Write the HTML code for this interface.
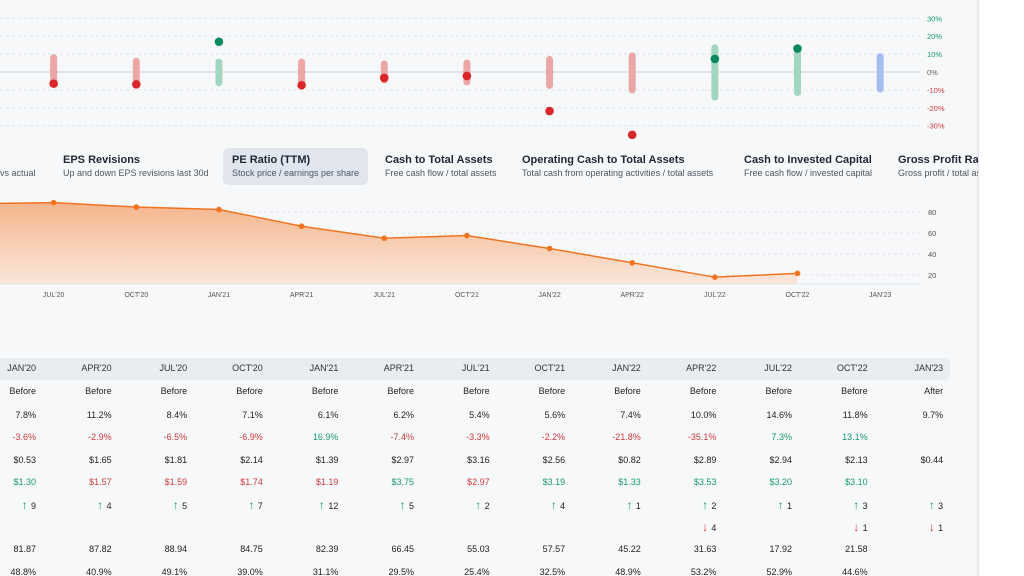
<!DOCTYPE html>
<html><head><meta charset="utf-8">
<style>
html,body{margin:0;padding:0;width:1024px;height:576px;overflow:hidden;background:#f6f8fa;font-family:"Liberation Sans",sans-serif}
#root{position:relative;width:1024px;height:576px}
.panel{position:absolute;left:978px;top:0;width:46px;height:576px;background:#fff;border-left:1px solid #e3e6ea;box-shadow:-1px 0 3px rgba(0,0,0,.05)}
.tab{position:absolute;top:148px;height:37px;padding:0 9px;box-sizing:border-box;border-radius:6px}
.tab .t{position:absolute;top:6px;font-size:11px;font-weight:bold;color:#1f2733;white-space:nowrap}
.tab .s{position:absolute;top:20px;font-size:9px;color:#4e5661;white-space:nowrap}
.sel{background:#e1e6ee}
</style></head><body>
<div id="root">
<svg id="chart" width="1024" height="576" style="position:absolute;left:0;top:0"></svg>
<div class="tab" style="left:54px;width:160px"><div class="t" style="left:9px">EPS Revisions</div><div class="s" style="left:9px">Up and down EPS revisions last 30d</div></div>
<div class="tab" style="left:-60px;width:100px"><div class="s" style="left:60px">vs actual</div></div>
<div class="tab sel" style="left:223px;width:145px"><div class="t" style="left:9px">PE Ratio (TTM)</div><div class="s" style="left:9px">Stock price / earnings per share</div></div>
<div class="tab" style="left:376px;width:140px"><div class="t" style="left:9px">Cash to Total Assets</div><div class="s" style="left:9px">Free cash flow / total assets</div></div>
<div class="tab" style="left:513px;width:215px"><div class="t" style="left:9px">Operating Cash to Total Assets</div><div class="s" style="left:9px">Total cash from operating activities / total assets</div></div>
<div class="tab" style="left:735px;width:150px"><div class="t" style="left:9px">Cash to Invested Capital</div><div class="s" style="left:9px">Free cash flow / invested capital</div></div>
<div class="tab" style="left:889px;width:89px;overflow:hidden;padding:0"><div class="t" style="left:9px">Gross Profit Ratio</div><div class="s" style="left:9px">Gross profit / total assets</div></div>
<div class="panel"></div>
</div>
<script>
const quarters=["JAN'20","APR'20","JUL'20","OCT'20","JAN'21","APR'21","JUL'21","OCT'21","JAN'22","APR'22","JUL'22","OCT'22","JAN'23"];
const rangeHigh=[7,7,8,6,5.5,5.5,4.5,5,7,9,13.5,11,8.5];
const rangeLow=[-6,-6,-6,-7,-6,-7,-4.5,-5.5,-7.5,-10,-14,-11.5,-9.5];
const surprise=[-3.6,-2.9,-6.5,-6.9,16.9,-7.4,-3.3,-2.2,-21.8,-35.1,7.3,13.1,null];
const peRatio=[81.87,87.82,88.94,84.75,82.39,66.45,55.03,57.57,45.22,31.63,17.92,21.58,null];
const pctTicks=[30,20,10,0,-10,-20,-30];
const peTicks=[80,60,40,20];
const timing=["Before","Before","Before","Before","Before","Before","Before","Before","Before","Before","Before","Before","After"];
const estGrowth=["7.8%","11.2%","8.4%","7.1%","6.1%","6.2%","5.4%","5.6%","7.4%","10.0%","14.6%","11.8%","9.7%"];
const surpriseTxt=["-3.6%","-2.9%","-6.5%","-6.9%","16.9%","-7.4%","-3.3%","-2.2%","-21.8%","-35.1%","7.3%","13.1%",""];
const epsEst=["$0.53","$1.65","$1.81","$2.14","$1.39","$2.97","$3.16","$2.56","$0.82","$2.89","$2.94","$2.13","$0.44"];
const epsAct=["$1.30","$1.57","$1.59","$1.74","$1.19","$3.75","$2.97","$3.19","$1.33","$3.53","$3.20","$3.10",""];
const actUp=[1,0,0,0,0,1,0,1,1,1,1,1,null];
const revUp=[9,4,5,7,12,5,2,4,1,2,1,3,3];
const revDown=[null,null,null,null,null,null,null,null,null,4,null,1,1];
const peTxt=["81.87","87.82","88.94","84.75","82.39","66.45","55.03","57.57","45.22","31.63","17.92","21.58",""];
const gross=["48.8%","40.9%","49.1%","39.0%","31.1%","29.5%","25.4%","32.5%","48.9%","53.2%","52.9%","44.6%",""];

const NS="http://www.w3.org/2000/svg";
const svg=document.getElementById('chart');
function mk(tag,attrs,parent){const e=document.createElementNS(NS,tag);for(const k in attrs)e.setAttribute(k,attrs[k]);(parent||svg).appendChild(e);return e;}
const xq=i=>-29+82.65*(i-1);
const yp=v=>72-v*1.79;
const ype=v=>296-v*1.05;

const defs=mk('defs',{});
const lg=mk('linearGradient',{id:'ag',x1:0,y1:0,x2:0,y2:1},defs);
mk('stop',{offset:'0','stop-color':'#f5b58c'},lg);
mk('stop',{offset:'1','stop-color':'#fae6da'},lg);

pctTicks.forEach(t=>{
  const l=mk('line',{x1:0,x2:920,y1:yp(t),y2:yp(t),stroke:t===0?'#dfe3ea':'#e2e5ea','stroke-width':t===0?2:1,'stroke-dasharray':t===0?'':'3,3'});
  
  
  const tx=mk('text',{x:927,y:yp(t)+3,'font-size':7.5,fill:t>0?'#1a9a6a':t<0?'#d0393c':'#666'});
  tx.textContent=t+'%';
  
  
});
quarters.forEach((q,i)=>{
  const x=xq(i);
  const c=i===12?'#a6bdf0':(surprise[i]>0?'#a2d6c1':'#eca6a6');
  const b=mk('line',{x1:x,x2:x,y1:yp(rangeHigh[i]),y2:yp(rangeLow[i]),stroke:c,'stroke-width':7,'stroke-linecap':'round'});
  
  
  if(surprise[i]!==null){
    const d=mk('circle',{cx:x,cy:yp(surprise[i]),r:4.3,fill:surprise[i]>0?'#0b8a5f':'#d8262b'});
    
    
  }
});

peTicks.forEach(t=>{
  const l=mk('line',{x1:0,x2:920,y1:ype(t),y2:ype(t),stroke:'#e2e5ea','stroke-dasharray':'3,3'});
  
  
  const tx=mk('text',{x:928,y:ype(t)+3,'font-size':7.5,fill:'#555'});
  tx.textContent=t;
  
  
});
const pts=[];peRatio.forEach((v,i)=>{if(v!==null)pts.push([xq(i),ype(v)]);});
const base=284;
let dA='M'+pts[0][0]+','+base+' '+pts.map(p=>'L'+p[0]+','+p[1]).join(' ')+' L'+pts[pts.length-1][0]+','+base+' Z';
const area=mk('path',{d:dA,fill:'url(#ag)'});


const line=mk('path',{d:'M'+pts.map(p=>p[0]+','+p[1]).join(' L'),fill:'none',stroke:'#f07420','stroke-width':1.5});


const bl=mk('line',{x1:0,x2:920,y1:base,y2:base,stroke:'#e0e4e9','stroke-width':1});


pts.forEach(p=>{
  const c=mk('circle',{cx:p[0],cy:p[1],r:2.8,fill:'#f07420'});
  
  
});
quarters.forEach((q,i)=>{
  const tx=mk('text',{x:xq(i),y:297,'font-size':7,fill:'#555','text-anchor':'middle'});
  tx.textContent=q;
  
  
});

const hb=mk('rect',{x:-10,y:358,width:960,height:22,rx:5,fill:'#e9edf1'});


const colR=i=>36+75.6*i;
function cell(txt,i,y,fill,name,fs,fw){
  if(txt===''||txt===null)return;
  const tx=mk('text',{x:colR(i),y:y,'font-size':fs||9,fill:fill,'text-anchor':'end','font-weight':fw||'normal'});
  tx.textContent=txt;
  
  
}
quarters.forEach((q,i)=>{
  cell(q,i,371,'#333','table-header-cell');
  cell(timing[i],i,394,'#222','timing-cell');
  cell(estGrowth[i],i,418,'#222','growth-cell');
  cell(surpriseTxt[i],i,440,surprise[i]>0?'#1a9a6a':'#d0393c','surprise-cell');
  cell(epsEst[i],i,463,'#222','eps-estimate-cell');
  cell(epsAct[i],i,485,actUp[i]?'#1a9a6a':'#d0393c','eps-actual-cell');
  if(revUp[i]!==null){
    cell(revUp[i],i,509,'#222','revision-up-cell');
    cell('↑',i-0.11-(revUp[i]>9?0.07:0),509,'#1a9a6a','revision-up-arrow',12,'bold');
  }
  if(revDown[i]!==null){
    cell(revDown[i],i,531,'#222','revision-down-cell');
    cell('↓',i-0.11,531,'#d0393c','revision-down-arrow',12,'bold');
  }
  cell(peTxt[i],i,552,'#222','pe-cell');
  cell(gross[i],i,575,'#222','gross-cell');
});
</script>
</body></html>
